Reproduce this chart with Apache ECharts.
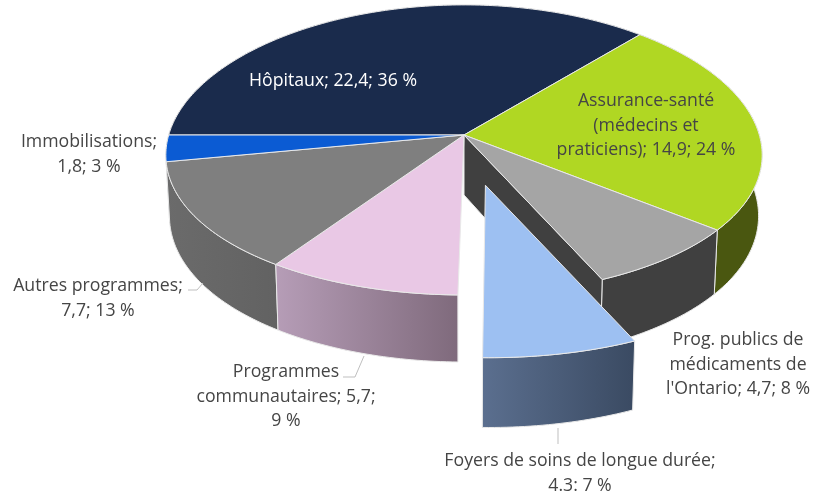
<!DOCTYPE html>
<html><head><meta charset="utf-8">
<style>html,body{margin:0;padding:0;background:#fff}#c{width:813px;height:492px}</style>
<script src="https://cdn.jsdelivr.net/npm/echarts@6/dist/echarts.min.js"></script>
</head><body><div id="c"></div>
<script>
// Data
const categories = ['Hôpitaux','Assurance-santé (médecins et praticiens)',"Prog. publics de médicaments de l'Ontario",'Foyers de soins de longue durée','Programmes communautaires','Autres programmes','Immobilisations'];
const values = [22.4,14.9,4.7,4.3,5.7,7.7,1.8];
const labelLines = [
  ['Hôpitaux; 22,4; 36 %'],
  ['Assurance-santé','(médecins et','praticiens); 14,9; 24 %'],
  ['Prog. publics de','médicaments de',"l'Ontario; 4,7; 8 %"],
  ['Foyers de soins de longue durée;','4.3: 7 %'],
  ['Programmes','communautaires; 5,7;','9 %'],
  ['Autres programmes;','7,7; 13 %'],
  ['Immobilisations;','1,8; 3 %']
];
// Styling / layout
const topColors = ['#1a2b4c','#b0d723','#a5a5a5','#9dc0f2','#e9c8e5','#7f7f7f','#0b5bd3'];
const wallColors = [['#101b30','#101b30'],['#4a5710','#4a5710'],['#404040','#404040'],['#5b6f8f','#3a4a62'],['#b69db7','#7f6a7c'],['#6b6b6b','#626262'],['#084090','#084090']];
const exploded = [0,0,0,0.345,0,0,0];
const labelPos = [[333,81],[646,101],[738,340],[580,461],[286,372],[98,286],[89,142]];
const labelFill = ['#ffffff','#454545','#454545','#454545','#454545','#454545','#454545'];
const leaders = [null,null,null,[[558,428],[558,444]],[[343,377],[355,377],[364,356]],[[188,290],[197,290],[203,283]],null];
const wallZ = [1,3,4,20,4,3,2];
const CX=464, CY=135, RX=295.3, RY=143.5, KX=0.138, KY=0.103, LINE=24.5, FIRST=270;

const total = values.reduce((a,b)=>a+b,0);
const deg = Math.PI/180;
function project(u,v){ return [CX+RX*u/(1-KX*v), CY+RY*v/(1-KY*v)]; }
function topPt(th,du,dv){ return project(Math.sin(th*deg)+du, -Math.cos(th*deg)+dv); }
function lower(p){ return [CX+(p[0]-CX)*0.988, CY+(p[1]-CY)*1.044+60]; }
function arc(a,b,du,dv){
  const n=Math.max(2,Math.ceil(b-a)), out=[];
  for(let i=0;i<=n;i++) out.push(topPt(a+(b-a)*i/n,du,dv));
  return out;
}
const EDGE='#e9e9e9';
function renderItem(params,api){
  const i=api.value(0), val=api.value(1);
  let before=0; for(let k=0;k<i;k++) before+=values[k];
  const a=FIRST+before/total*360, b=a+val/total*360, mid=(a+b)/2;
  const du=exploded[i]*Math.sin(mid*deg), dv=-exploded[i]*Math.cos(mid*deg);
  const rim=arc(a,b,du,dv), kids=[], c=project(du,dv);
  // outer wall
  kids.push({type:'polygon',z2:wallZ[i],shape:{points:rim.concat(rim.map(lower).reverse())},
    style:{fill:new echarts.graphic.LinearGradient(0,0,1,0,[{offset:0,color:wallColors[i][0]},{offset:1,color:wallColors[i][1]}]),stroke:EDGE,lineWidth:1}});
  // cut face left visible by the exploded slice
  if(i===2){
    const e=rim[rim.length-1];
    kids.push({type:'polygon',z2:5,shape:{points:[c,e,lower(e),lower(c)]},style:{fill:wallColors[2][0],stroke:EDGE,lineWidth:1}});
  }
  // top face
  kids.push({type:'polygon',z2:exploded[i]?21:10,shape:{points:[c].concat(rim)},style:{fill:topColors[i],stroke:EDGE,lineWidth:1,lineJoin:'round'}});
  // leader
  if(leaders[i]) kids.push({type:'polyline',z2:30,shape:{points:leaders[i]},style:{fill:'none',stroke:'#bfbfbf',lineWidth:1}});
  // label
  labelLines[i].forEach((t,j)=>kids.push({type:'text',z2:31,style:{text:t,x:labelPos[i][0],y:labelPos[i][1]+j*LINE,
    fill:labelFill[i],font:'17.7px "Open Sans"',align:'center',verticalAlign:'middle'}}));
  return {type:'group',children:kids};
}
const chart=echarts.init(document.getElementById('c'),null,{renderer:'canvas'});
chart.setOption({
  animation:false,
  backgroundColor:'#ffffff',
  series:[{type:'custom',coordinateSystem:'none',renderItem,silent:true,
    data:values.map((v,i)=>({name:categories[i],value:[i,v]}))}]
});
</script></body></html>
